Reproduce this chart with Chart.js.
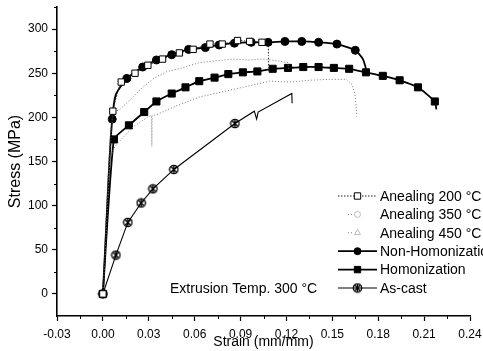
<!DOCTYPE html>
<html>
<head>
<meta charset="utf-8">
<script src="https://cdn.jsdelivr.net/npm/chart.js@4.4.0/dist/chart.umd.min.js"></script>
<style>
  html, body { margin: 0; padding: 0; background: #fff; }
</style>
</head>
<body>
<canvas id="c" width="483" height="351"></canvas>
<script>
// Tensile curves (strain in mm/mm, stress in MPa)
const xTicks = [-0.03, 0, 0.03, 0.06, 0.09, 0.12, 0.15, 0.18, 0.21, 0.24]
const yTicks = [0, 50, 100, 150, 200, 250, 300]

const seriesNames = ["Anealing 200 °C", "Anealing 350 °C", "Anealing 450 °C", "Non-Homonization", "Homonization", "As-cast"]

const a200X = [0, 0.004, 0.0065, 0.012, 0.021, 0.0294, 0.039, 0.050, 0.059, 0.070, 0.078, 0.088, 0.096, 0.104, 0.108, 0.1082, 0.1085]
const a200Y = [0, 150, 207, 240, 250, 259, 266, 273, 277, 283, 283, 287, 286, 285, 284, 270, 256]

const a350X = [0, 0.004, 0.0065, 0.011, 0.018, 0.026, 0.034, 0.042, 0.052, 0.063, 0.074, 0.085, 0.095, 0.105, 0.114, 0.121, 0.1215]
const a350Y = [0, 150, 205, 209, 220, 234, 245, 252, 256, 262, 264, 266, 265, 266, 264, 262, 254]

const a450X = [0, 0.003, 0.0046, 0.0078, 0.013, 0.0196, 0.029, 0.0318, 0.032, 0.0322, 0.035, 0.048, 0.063, 0.081, 0.094, 0.109, 0.122, 0.135, 0.148, 0.159, 0.163, 0.165, 0.166]
const a450Y = [0, 100, 153, 167, 177, 189, 200, 202, 167, 202, 203, 213, 223, 230, 235, 241, 240, 242, 243, 243, 237, 224, 201]

const nonHomoX = [0, 0.002, 0.004, 0.0061, 0.0085, 0.0157, 0.026, 0.035, 0.045, 0.056, 0.067, 0.076, 0.086, 0.097, 0.108, 0.119, 0.130, 0.141, 0.153, 0.165, 0.170, 0.1725]
const nonHomoY = [0, 70, 141, 198, 226, 244, 257, 265, 271, 277, 279, 282, 284, 285, 285, 286, 286, 285, 283, 276, 266, 252]

const homoX = [0, 0.0072, 0.017, 0.027, 0.035, 0.045, 0.054, 0.063, 0.073, 0.082, 0.0915, 0.101, 0.111, 0.121, 0.131, 0.141, 0.151, 0.161, 0.172, 0.183, 0.194, 0.206, 0.217, 0.218]
const homoY = [0, 175, 191, 206, 218, 227, 234, 241, 245, 249, 251, 252, 255, 256, 257, 257, 256, 255, 251, 247, 242, 234, 218, 209]

const asCastX = [0, 0.0085, 0.0163, 0.025, 0.0327, 0.0464, 0.0863, 0.099, 0.1005, 0.1015, 0.1235, 0.1237]
const asCastY = [0, 44, 81, 103, 119, 141, 193, 207, 198, 206, 227, 216]

const note = "Extrusion Temp. 300 °C"

const FONT = "'Liberation Sans', Arial, sans-serif"

// circle with an X inside, like Origin's as-cast symbol
const asCastMark = document.createElement("canvas")
asCastMark.width = 11
asCastMark.height = 11
{
  const g = asCastMark.getContext("2d")
  g.strokeStyle = "#000"
  g.lineWidth = 1.3
  g.beginPath()
  g.arc(5.5, 5.5, 4.2, 0, Math.PI * 2)
  g.stroke()
  g.beginPath()
  g.moveTo(2.7, 2.7); g.lineTo(8.3, 8.3)
  g.moveTo(8.3, 2.7); g.lineTo(2.7, 8.3)
  g.moveTo(5.5, 1.5); g.lineTo(5.5, 9.5)
  g.stroke()
}

const pts = (xs, ys) => xs.map((x, i) => ({ x, y: ys[i] }))
const radiusSkip = (r, skip) => (ctx) => skip.includes(ctx.dataIndex) ? 0 : r

const datasets = [
  {
    label: seriesNames[0], data: pts(a200X, a200Y),
    borderColor: "#222", borderWidth: 1, borderDash: [1.5, 1.5], tension: 0.15,
    pointStyle: "rect", pointRadius: radiusSkip(4.5, [1, 14, 15, 16]),
    pointBackgroundColor: "#fff", pointBorderColor: "#000", pointBorderWidth: 1
  },
  {
    label: seriesNames[1], data: pts(a350X, a350Y),
    borderColor: "#777", borderWidth: 1, borderDash: [1, 2], tension: 0,
    pointStyle: "circle", pointRadius: 0,
    pointBackgroundColor: "#fff", pointBorderColor: "#bbb", pointBorderWidth: 1,
    legendMark: 3
  },
  {
    label: seriesNames[2], data: pts(a450X, a450Y),
    borderColor: "#777", borderWidth: 1, borderDash: [1, 2], tension: 0,
    pointStyle: "triangle", pointRadius: 0,
    pointBackgroundColor: "#fff", pointBorderColor: "#bbb", pointBorderWidth: 1,
    legendMark: 3.5
  },
  {
    label: seriesNames[3], data: pts(nonHomoX, nonHomoY),
    borderColor: "#000", borderWidth: 1.8, tension: 0.2,
    pointStyle: "circle", pointRadius: radiusSkip(4, [1, 2, 4, 20, 21]),
    pointBackgroundColor: "#000", pointBorderColor: "#000", pointBorderWidth: 1
  },
  {
    label: seriesNames[4], data: pts(homoX, homoY),
    borderColor: "#000", borderWidth: 1.8, tension: 0.15,
    pointStyle: "rect", pointRadius: radiusSkip(5, [23]),
    pointBackgroundColor: "#000", pointBorderColor: "#000", pointBorderWidth: 1
  },
  {
    label: seriesNames[5], data: pts(asCastX, asCastY),
    borderColor: "#000", borderWidth: 1.1, tension: 0,
    pointStyle: asCastMark, pointRadius: radiusSkip(5, [7, 8, 9, 10, 11]),
    pointBackgroundColor: "#000", pointBorderColor: "#000", pointBorderWidth: 1
  }
]

// small unlabeled ticks halfway between the labelled ones
const minorTicks = {
  id: "minorTicks",
  afterDraw(chart) {
    const { ctx } = chart
    const sx = chart.scales.x, sy = chart.scales.y
    ctx.save()
    ctx.strokeStyle = "#000"
    ctx.lineWidth = 1
    ctx.beginPath()
    for (let i = 0; i < xTicks.length - 1; i++) {
      const px = Math.round(sx.getPixelForValue((xTicks[i] + xTicks[i + 1]) / 2)) + 0.5
      ctx.moveTo(px, sx.top); ctx.lineTo(px, sx.top + 3)
    }
    const step = yTicks[1] - yTicks[0]
    for (let v = yTicks[0] + step / 2; v < sy.max + 1; v += step) {
      const py = Math.round(sy.getPixelForValue(v)) + 0.5
      ctx.moveTo(sy.right - 3, py); ctx.lineTo(sy.right, py)
    }
    ctx.stroke()
    ctx.restore()
  }
}

// legend and note sit inside the plot, lower right
const insideLegend = {
  id: "insideLegend",
  afterDraw(chart) {
    const { ctx } = chart
    const x0 = 338, x1 = 377, top = 196, gap = 18.4
    ctx.save()
    chart.data.datasets.forEach((ds, i) => {
      const y = top + i * gap
      ctx.strokeStyle = ds.borderColor
      ctx.lineWidth = ds.borderWidth
      ctx.setLineDash(ds.borderDash || [])
      ctx.beginPath()
      if (ds.legendMark) {
        ctx.moveTo(x0 + 10, y); ctx.lineTo(x0 + 15, y)
      } else {
        ctx.moveTo(x0, y); ctx.lineTo(x1, y)
      }
      ctx.stroke()
      ctx.setLineDash([])
      ctx.fillStyle = ds.pointBackgroundColor
      ctx.strokeStyle = ds.pointBorderColor
      ctx.lineWidth = ds.pointBorderWidth
      Chart.helpers.drawPoint(ctx, {
        pointStyle: ds.pointStyle, rotation: 0, borderWidth: ds.pointBorderWidth,
        radius: ds.legendMark || (ds.pointStyle === "rect" ? 4.5 : 3.5)
      }, (x0 + x1) / 2, y)
      ctx.fillStyle = "#000"
      ctx.font = "14px " + FONT
      ctx.textBaseline = "middle"
      ctx.textAlign = "left"
      ctx.fillText(ds.label, x1 + 3, y + 1)
    })
    ctx.fillText(note, 170, top + 5 * gap + 1)
    ctx.restore()
  }
}

new Chart(document.getElementById("c"), {
  type: "line",
  data: { datasets },
  plugins: [minorTicks, insideLegend],
  options: {
    responsive: false,
    animation: false,
    devicePixelRatio: 1,
    layout: { padding: { top: 7, right: 13, left: 0, bottom: 0 } },
    plugins: { legend: { display: false }, tooltip: { enabled: false } },
    scales: {
      x: {
        type: "linear",
        min: -0.03,
        max: 0.24,
        afterBuildTicks: (s) => { s.ticks = xTicks.map((v) => ({ value: v })) },
        afterFit: (s) => { s.height = 35; s.paddingLeft = 0; s.paddingRight = 13 },
        ticks: {
          callback: (v) => v.toFixed(2),
          color: "#000", font: { family: FONT, size: 12 },
          maxRotation: 0, autoSkip: false, padding: 6
        },
        grid: { drawOnChartArea: false, color: "#000", tickLength: 5, tickWidth: 1.2 },
        border: { color: "#000", width: 1.6 },
        title: {
          display: true, text: "Strain (mm/mm)", color: "#000",
          font: { family: FONT, size: 14 }, padding: { top: 0, bottom: 0 }
        }
      },
      y: {
        min: -25,
        max: 325,
        afterBuildTicks: (s) => { s.ticks = yTicks.map((v) => ({ value: v })) },
        afterFit: (s) => { s.width = 57; s.paddingTop = 7; s.paddingBottom = 0 },
        ticks: { color: "#000", font: { family: FONT, size: 12 }, padding: 4 },
        grid: { drawOnChartArea: false, color: "#000", tickLength: 5, tickWidth: 1.2 },
        border: { color: "#000", width: 1.6 },
        title: {
          display: true, text: "Stress (MPa)", color: "#000",
          font: { family: FONT, size: 16 }, padding: { top: 6, bottom: 0 }
        }
      }
    }
  }
})
</script>
</body>
</html>
